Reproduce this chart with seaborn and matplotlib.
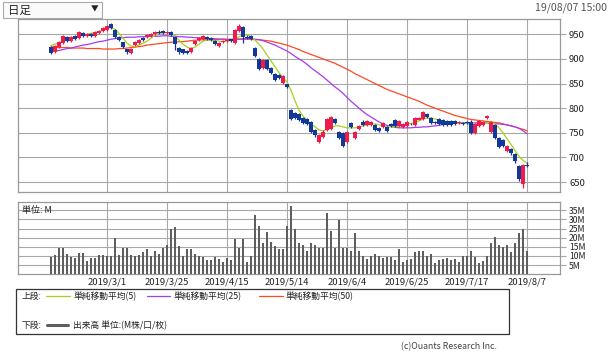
import matplotlib
matplotlib.use("Agg")
import matplotlib.pyplot as plt
from matplotlib.patches import Rectangle
from matplotlib.lines import Line2D
import seaborn as sns
import numpy as np

# ---- data ----
tick_pos = [14, 29, 44, 59, 74, 89, 104, 119]
tick_labels = ["2019/3/1", "2019/3/25", "2019/4/15", "2019/5/14",
               "2019/6/4", "2019/6/25", "2019/7/17", "2019/8/7"]

opens = [924, 914, 924, 932, 944, 937, 946, 943, 953, 947,
         951, 947, 953, 956, 958, 970, 958, 945, 934, 920,
         911, 928, 932, 943, 944, 947, 950, 955, 957, 952,
         955, 945, 922, 920, 916, 914, 930, 938, 940, 945,
         942, 937, 926, 934, 936, 940, 932, 957, 964, 945,
         946, 922, 900, 882, 898, 882, 870, 868, 852, 848,
         796, 790, 788, 780, 778, 772, 755, 732, 742, 756,
         758, 778, 752, 750, 732, 770, 740, 758, 772, 766,
         766, 766, 760, 762, 762, 768, 775, 763, 761, 764,
         768, 766, 776, 778, 789, 780, 772, 778, 776, 774,
         773, 774, 770, 770, 772, 772, 750, 764, 766, 780,
         752, 766, 740, 736, 713, 718, 706, 683, 645, 685]
closes = [912, 926, 934, 946, 936, 944, 940, 955, 947, 950,
          946, 954, 957, 963, 966, 963, 945, 938, 924, 913,
          921, 935, 938, 938, 948, 950, 954, 952, 953, 955,
          949, 930, 913, 912, 912, 923, 937, 942, 946, 940,
          939, 930, 933, 937, 939, 937, 958, 966, 945, 943,
          940, 906, 880, 898, 880, 872, 858, 862, 866, 842,
          778, 780, 776, 770, 768, 752, 745, 745, 752, 778,
          782, 770, 740, 724, 752, 762, 752, 764, 766, 774,
          771, 756, 754, 770, 754, 764, 764, 773, 768, 772,
          767, 780, 779, 792, 781, 770, 770, 768, 766, 766,
          766, 768, 770, 768, 770, 750, 768, 774, 772, 785,
          772, 740, 722, 724, 724, 708, 692, 656, 685, 682]
highs = [926, 928, 936, 948, 946, 946, 948, 957, 955, 953,
         953, 956, 959, 965, 968, 972, 960, 946, 935, 921,
         923, 937, 940, 945, 950, 952, 956, 958, 959, 957,
         957, 947, 924, 921, 918, 925, 939, 944, 948, 947,
         944, 938, 935, 939, 941, 941, 960, 970, 966, 948,
         948, 924, 902, 900, 900, 884, 872, 870, 868, 850,
         798, 792, 790, 782, 780, 774, 757, 747, 755, 780,
         785, 780, 754, 752, 754, 772, 754, 766, 775, 776,
         773, 768, 762, 772, 764, 770, 777, 775, 770, 774,
         770, 782, 781, 794, 791, 782, 774, 780, 778, 776,
         775, 776, 773, 772, 774, 775, 770, 776, 774, 787,
         774, 768, 742, 738, 726, 720, 708, 685, 687, 690]
lows = [910, 912, 922, 930, 934, 935, 938, 941, 945, 945,
        944, 945, 951, 954, 956, 961, 943, 936, 922, 910,
        909, 926, 930, 936, 942, 945, 948, 950, 951, 950,
        947, 918, 910, 909, 910, 912, 928, 936, 938, 938,
        936, 928, 924, 932, 934, 935, 930, 955, 932, 940,
        938, 904, 877, 880, 878, 870, 856, 860, 850, 840,
        775, 777, 773, 767, 765, 750, 742, 729, 740, 754,
        756, 768, 737, 721, 730, 760, 738, 756, 764, 764,
        764, 754, 752, 760, 752, 762, 762, 761, 759, 762,
        765, 764, 775, 776, 779, 768, 768, 766, 764, 764,
        764, 766, 767, 766, 768, 748, 748, 762, 764, 778,
        750, 738, 719, 721, 711, 705, 688, 652, 638, 680]

ma5 = [927, 930, 932, 936, 938, 941, 944, 946, 948, 950,
       952, 953, 955, 958, 961, 964, 960, 952, 942, 932,
       926, 925, 928, 932, 936, 942, 948, 952, 953, 953,
       952, 946, 938, 930, 924, 921, 924, 930, 936, 938,
       938, 937, 936, 935, 936, 937, 941, 945, 948, 949,
       945, 938, 930, 920, 908, 896, 884, 872, 862, 853,
       836, 815, 796, 784, 776, 768, 762, 756, 754, 756,
       760, 764, 764, 762, 760, 760, 760, 762, 764, 766,
       768, 768, 766, 764, 762, 762, 762, 763, 765, 767,
       769, 771, 774, 778, 780, 780, 778, 776, 774, 772,
       771, 770, 770, 769, 769, 766, 765, 766, 767, 770,
       772, 768, 760, 750, 738, 726, 714, 702, 694, 688]
ma25 = [914, 916, 917, 919, 921, 922, 924, 926, 928, 929,
        931, 933, 935, 936, 938, 940, 941, 943, 943, 944,
        944, 944, 945, 945, 945, 946, 946, 946, 947, 947,
        946, 946, 945, 945, 944, 944, 943, 943, 942, 942,
        941, 941, 940, 940, 939, 939, 940, 940, 941, 941,
        941, 940, 939, 937, 934, 931, 928, 924, 920, 916,
        911, 905, 900, 895, 889, 882, 876, 870, 864, 857,
        850, 843, 837, 830, 822, 814, 807, 800, 793, 787,
        782, 777, 772, 768, 765, 763, 761, 760, 760, 760,
        760, 761, 761, 762, 762, 763, 764, 765, 767, 769,
        770, 770, 770, 770, 770, 770, 770, 770, 770, 770,
        769, 768, 768, 767, 766, 764, 762, 759, 754, 748]
ma50 = [924, 924, 923, 923, 923, 922, 922, 922, 922, 921,
        921, 921, 921, 920, 920, 920, 920, 921, 921, 922,
        923, 924, 925, 926, 928, 929, 930, 931, 932, 933,
        934, 934, 935, 935, 936, 937, 938, 938, 939, 939,
        939, 939, 940, 940, 940, 940, 940, 940, 940, 940,
        940, 939, 939, 938, 937, 936, 934, 932, 930, 928,
        925, 922, 919, 915, 912, 909, 906, 903, 900, 897,
        894, 891, 887, 883, 879, 875, 870, 866, 862, 858,
        854, 850, 846, 842, 838, 835, 832, 829, 826, 823,
        820, 817, 814, 810, 806, 803, 800, 797, 794, 791,
        788, 785, 783, 781, 779, 777, 776, 775, 774, 773,
        772, 771, 770, 768, 766, 764, 762, 759, 757, 754]

volume = [9.5, 10.8, 14.5, 14.5, 11.3, 9.5, 8.7, 11.7, 11.7, 7.3,
          8.7, 8.7, 10.8, 10.8, 10.2, 10.2, 19.7, 10.8, 14.5, 14.5,
          10.8, 9.9, 10.8, 12.1, 13.6, 10.2, 12.5, 11.3, 14.5, 15.8,
          24.7, 25.7, 15.4, 10.2, 13.6, 14.0, 11.2, 9.9, 9.5, 8.0,
          8.0, 9.5, 8.4, 6.9, 8.7, 8.0, 19.2, 14.5, 19.2, 6.9,
          10.2, 32.2, 26.6, 16.9, 22.9, 17.9, 15.4, 13.6, 14.0, 26.2,
          37.4, 24.7, 16.9, 16.0, 13.0, 16.9, 16.0, 14.5, 14.5, 33.7,
          23.6, 14.5, 29.8, 14.5, 14.5, 13.0, 22.5, 12.5, 9.9, 8.4,
          10.2, 11.3, 10.2, 8.7, 9.5, 9.5, 8.0, 14.0, 6.9, 8.0,
          8.4, 12.1, 12.5, 12.5, 10.2, 11.3, 6.1, 8.0, 8.4, 8.7,
          8.0, 8.4, 6.5, 9.9, 9.9, 12.5, 9.5, 6.1, 7.4, 9.9,
          16.9, 20.6, 16.0, 14.7, 15.8, 12.1, 16.9, 22.5, 24.7, 12.5]

price_ticks = [650, 700, 750, 800, 850, 900, 950]
vol_ticks = [5, 10, 15, 20, 25, 30, 35]

# ---- style ----
sns.set_style("white")
plt.rcParams['font.family'] = ['Noto Sans CJK JP', 'DejaVu Sans']

W, H = 610, 353
grid_c = '#a8a8a8'
up_c, down_c = '#ee1c4c', '#12399a'
ma_colors = ['#a8d01c', '#a43cf0', '#ff4824']

def fx(px):
    return px / W

def fy(py):
    return 1 - py / H

fig = plt.figure(figsize=(W / 100, H / 100), dpi=100)

ax = fig.add_axes([fx(18), fy(192), fx(542), 173 / H])
axv = fig.add_axes([fx(18), fy(274.3), fx(542), 72.3 / H])

idx = np.arange(len(closes))
o = np.array(opens)
c = np.array(closes)
colors = [up_c if cc >= oo else down_c for oo, cc in zip(o, c)]

# moving averages
for ma, col in zip([ma50, ma25, ma5], ma_colors[::-1]):
    sns.lineplot(x=idx, y=ma, ax=ax, color=col, lw=0.9, zorder=3)

# candles
ax.vlines(idx, lows, highs, colors=colors, lw=0.9, zorder=4)
body_low = np.minimum(o, c)
body_h = np.maximum(np.abs(c - o), 1.2)
ax.bar(idx, body_h, bottom=body_low, width=0.8, color=colors,
       linewidth=0, zorder=5)

ax.set_xlim(-8.25, 127.25)
ax.set_ylim(629.7, 981)
ax.set_xticks(tick_pos)
ax.set_xticklabels([])
ax.set_yticks(price_ticks)
ax.set_yticklabels([str(p) for p in price_ticks])
ax.yaxis.tick_right()
ax.tick_params(axis='y', length=4.5, width=0.8, color=grid_c, pad=2,
               labelsize=6.8, labelcolor='#222222')
ax.tick_params(axis='x', length=0)
ax.grid(True, color=grid_c, lw=0.8)
ax.set_xlabel('')
ax.set_ylabel('')

# volume
sns.barplot(x=idx, y=volume, ax=axv, native_scale=True, color='#5e5e5e',
            width=0.62, saturation=1, linewidth=0, zorder=3)
axv.set_xlim(-8.25, 127.25)
axv.set_ylim(0, 39.5)
axv.set_xticks(tick_pos)
axv.set_xticklabels(tick_labels)
axv.set_yticks(vol_ticks)
axv.set_yticklabels([f"{v}M" for v in vol_ticks])
axv.yaxis.tick_right()
axv.tick_params(axis='y', length=4.5, width=0.8, color=grid_c, pad=2,
                labelsize=6.2, labelcolor='#222222')
axv.tick_params(axis='x', length=0, pad=2, labelsize=6.8,
                labelcolor='#222222')
axv.grid(True, color=grid_c, lw=0.8)
axv.set_xlabel('')
axv.set_ylabel('')
axv.text(0.008, 0.88, '単位: M', transform=axv.transAxes, fontsize=6.5,
         va='center', ha='left', color='#222222', zorder=6)

for a in (ax, axv):
    for s in a.spines.values():
        s.set_color('#999999')
        s.set_linewidth(0.9)

# header
fig.patches.append(Rectangle((fx(3), fy(18)), fx(99), 16 / H,
                             transform=fig.transFigure, fill=True,
                             facecolor='#fafafa', edgecolor='#aaaaaa', lw=0.8))
fig.text(fx(8), fy(10), '日足', fontsize=8.3, va='center', ha='left',
         color='#222222')
fig.text(fx(95), fy(9.5), '▼', fontsize=5.5, va='center', ha='center',
         color='#222222')
fig.text(fx(607), fy(7.5), '19/08/07 15:00', fontsize=7.6, va='center',
         ha='right', color='#555555')

# legend box
fig.patches.append(Rectangle((fx(16), fy(334)), fx(493), 45 / H,
                             transform=fig.transFigure, fill=False,
                             edgecolor='#333333', lw=0.9))
legend_items = [(46, 70, '単純移動平均(5)', ma_colors[0]),
                (147, 170, '単純移動平均(25)', ma_colors[1]),
                (259, 283, '単純移動平均(50)', ma_colors[2])]
fig.text(fx(22), fy(296), '上段:', fontsize=6.3, va='center', ha='left',
         color='#222222')
for x0, x1, lab, col in legend_items:
    fig.lines.append(Line2D([fx(x0), fx(x1)], [fy(296), fy(296)],
                            transform=fig.transFigure, color=col, lw=0.9))
    fig.text(fx(x1 + 3), fy(296), lab, fontsize=6.3, va='center', ha='left',
             color='#222222')
fig.text(fx(22), fy(325), '下段:', fontsize=6.3, va='center', ha='left',
         color='#222222')
fig.lines.append(Line2D([fx(47), fx(68)], [fy(325), fy(325)],
                        transform=fig.transFigure, color='#5e5e5e', lw=2.2))
fig.text(fx(73), fy(325), '出来高 単位:(M株/口/枚)', fontsize=6.3,
         va='center', ha='left', color='#222222')
fig.text(fx(497), fy(346.5), '(c)Ouants Research Inc.', fontsize=6.3,
         va='center', ha='right', color='#444444')

fig.savefig('out.png', dpi=100)
